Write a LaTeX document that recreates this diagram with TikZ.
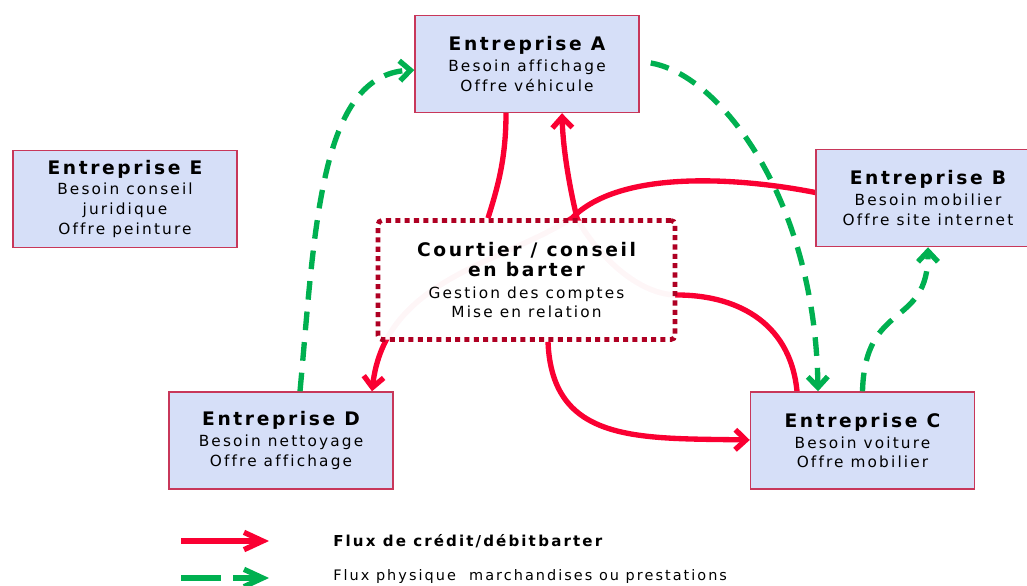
\documentclass[tikz,border=0pt]{standalone}
\usepackage{fontspec}
\setmainfont{DejaVu Sans}
\newfontfamily\widefont[LetterSpace=14,Ligatures=NoCommon]{DejaVu Sans}
\usetikzlibrary{arrows.meta,calc}
\pgfdeclarelayer{background}
\pgfsetlayers{background,main}

\definecolor{flowred}{RGB}{250,0,50}
\definecolor{flowgreen}{RGB}{0,176,80}
\definecolor{boxfill}{RGB}{214,223,248}
\definecolor{boxline}{RGB}{200,55,90}
\definecolor{brokerline}{RGB}{175,0,35}

\newcommand\companytitle[1]{{\fontsize{14}{16}\selectfont\bfseries #1}}

\begin{document}
\begin{tikzpicture}[x=0.75pt,y=-0.75pt,
  company/.style={draw=boxline, line width=1.1pt, fill=boxfill,
    minimum width=168pt, minimum height=72.75pt, inner sep=0pt,
    align=center, font=\widefont\fontsize{11.5}{14.8}\selectfont},
  broker/.style={draw=brokerline, line width=3.6pt, dash pattern=on 3.8pt off 3.2pt,
    fill=white, fill opacity=0.965, text opacity=1, rounded corners=3pt,
    minimum width=222.75pt, minimum height=89.25pt, inner sep=0pt,
    align=center, font=\widefont\fontsize{11.5}{14.8}\selectfont},
  creditline/.style={draw=flowred, line width=4pt},
  credit/.style={creditline, -{Straight Barb[length=8pt,width=15pt]}},
  goods/.style={draw=flowgreen, line width=4pt, dash pattern=on 14pt off 9pt,
    -{Straight Barb[length=8pt,width=15pt]}},
  legendtip/.style={-{Straight Barb[length=14pt,width=13pt]}},
  legendtext/.style={anchor=west, inner sep=0pt, font=\widefont\fontsize{10.85}{12}\selectfont}
]
\useasboundingbox (0,0) rectangle (1027,585);
\clip (0,0) rectangle (1027,585);

% companies
\node[company] (A) at (527,64)
  {\companytitle{Entreprise A}\\[1pt] Besoin affichage\\ Offre véhicule};
\node[company] (E) at (125,199)
  {\companytitle{Entreprise E}\\[0pt] Besoin conseil\\ juridique\\ Offre peinture};
\node[company] (B) at (928,198)
  {\companytitle{Entreprise B}\\[1pt] Besoin mobilier\\ Offre site internet};
\node[company] (D) at (281,440.5)
  {\companytitle{Entreprise D}\\[1pt] Besoin nettoyage\\ Offre affichage};
\node[company] (C) at (862.5,440.5)
  {\companytitle{Entreprise C}\\[1pt] Besoin voiture\\ Offre mobilier};

% broker, half-transparent so the flows crossing it show through
\node[broker] (K) at (526.5,280)
  {\companytitle{Courtier / conseil}\\[0.5pt] \companytitle{en barter}\\[1.5pt]
   Gestion des comptes\\ Mise en relation};

% credit flows passing underneath the broker
\begin{pgfonlayer}{background}
\draw[credit] ($(C.north)+(-65.5,0)$)
    .. controls +(-7,-72) and +(55,0) .. ($(K.east)+(0,15)$)
    .. controls +(-45,0) and +(13,26) .. ($(K.north)+(50.5,0)$)
    .. controls +(-7,-29) and +(1,37) .. ($(A.south)+(35,0)$);
\draw[credit] ($(B.west)+(0,-5.5)$)
    .. controls +(-76,-15) and +(48,-49) .. ($(K.north)+(45.5,0)$)
    .. controls +(-72,46) and +(13,-112) .. ($(D.north)+(91,0)$);
\end{pgfonlayer}

% other credit flows
\draw[creditline] ($(A.south)+(-21,0)$)
    .. controls +(0,47) and +(9,-29) .. ($(K.north)+(-38.5,0)$);
\draw[credit] ($(K.south)+(21.5,0)$)
    .. controls +(4,102) and +(-110,-2) .. ($(C.west)+(0,-0.5)$);

% flows of goods and services
\draw[goods] ($(D.north)+(19,0)$)
    .. controls +(15,-162) and +(-95,5) .. ($(A.west)+(0,6)$);
\draw[goods] ($(A.east)+(11,-1)$)
    .. controls +(70,12) and +(-3,-192) .. ($(C.north)+(-44.5,0)$);
\draw[goods] (C.north)
    .. controls +(2.5,-92) and +(0,82) .. (B.south);

% legend
\coordinate (lr1) at (181,541);
\coordinate (lr2) at (269,541);
\coordinate (lg1) at (181,578);
\coordinate (lg2) at (269,578);
\draw[creditline, legendtip] (lr1) -- (lr2);
\draw[goods, legendtip, dash pattern=on 30pt off 9pt] (lg1) -- (lg2);
\node[legendtext, font=\widefont\fontsize{11.3}{12}\selectfont\bfseries] (t1) at (333,541)
  {Flux de crédit/débit\,barter};
\node[legendtext] (t2) at (333,577)
  {Flux physique \ marchandises ou prestations};
\end{tikzpicture}
\end{document}
